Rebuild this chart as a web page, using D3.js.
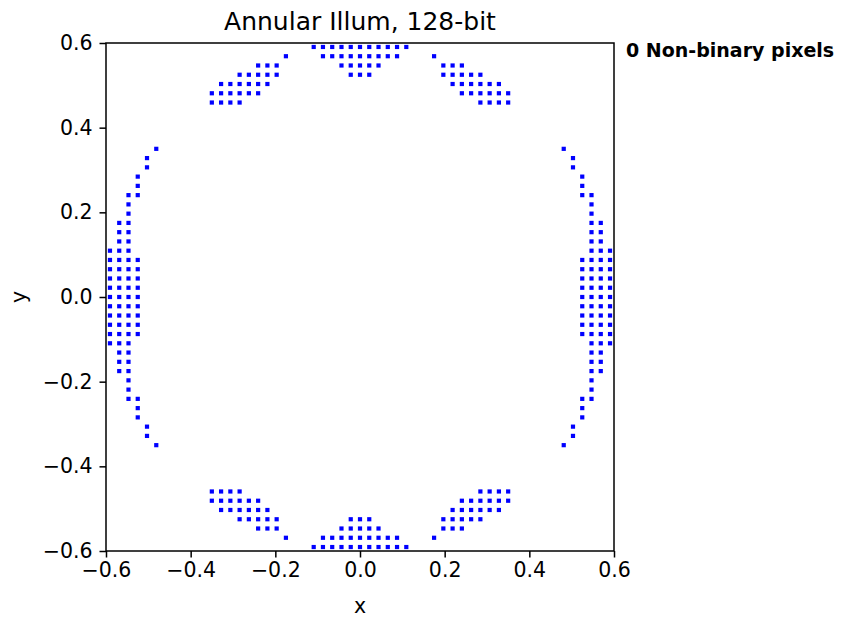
<!DOCTYPE html>
<html>
<head>
<meta charset="utf-8">
<script src="https://cdn.jsdelivr.net/npm/d3@7"></script>
<style>
  body { margin: 0; background: #fff; }
  svg { display: block; font-family: "DejaVu Sans", sans-serif; }
</style>
</head>
<body>
<svg id="chart" width="846" height="620"></svg>
<script>
// ---- data ----
const title = "Annular Illum, 128-bit";
const note = "0 Non-binary pixels";
const pitch = 0.021875;          // grid spacing in pupil coordinates
const xTicks = [-0.6, -0.4, -0.2, 0.0, 0.2, 0.4, 0.6];
const yTicks = [-0.6, -0.4, -0.2, 0.0, 0.2, 0.4, 0.6];
// grid row index (y) and the grid column indices (x) of lit pixels in that row
const rowIndex = [27, 26, 25, 24, 23, 22, 21, 16, 15, 14, 13, 12, 11, 10, 9, 8, 7, 6, 5, 4, 3, 2, 1, 0,
  -1, -2, -3, -4, -5, -6, -7, -8, -9, -10, -11, -12, -13, -14, -15, -16, -21, -22, -23, -24, -25, -26, -27];
const rowCols = [
  [-5,-4,-3,-2,-1,0,1,2,3,4,5],
  [-8,-4,-3,-2,-1,0,1,2,3,4,8],
  [-11,-10,-9,-2,-1,0,1,2,9,10,11],
  [-13,-12,-11,-10,-9,-1,0,1,9,10,11,12,13],
  [-15,-14,-13,-12,-11,-10,10,11,12,13,14,15],
  [-16,-15,-14,-13,-12,-11,11,12,13,14,15,16],
  [-16,-15,-14,-13,13,14,15,16],
  [-22,22],
  [-23,23],
  [-23,23],
  [-24,24],
  [-24,24],
  [-25,-24,24,25],
  [-25,25],
  [-25,25],
  [-26,-25,25,26],
  [-26,-25,25,26],
  [-26,-25,25,26],
  [-27,-26,-25,25,26,27],
  [-27,-26,-25,-24,24,25,26,27],
  [-27,-26,-25,-24,24,25,26,27],
  [-27,-26,-25,-24,24,25,26,27],
  [-27,-26,-25,-24,24,25,26,27],
  [-27,-26,-25,-24,24,25,26,27],
  [-27,-26,-25,-24,24,25,26,27],
  [-27,-26,-25,-24,24,25,26,27],
  [-27,-26,-25,-24,24,25,26,27],
  [-27,-26,-25,-24,24,25,26,27],
  [-27,-26,-25,25,26,27],
  [-26,-25,25,26],
  [-26,-25,25,26],
  [-26,-25,25,26],
  [-25,25],
  [-25,25],
  [-25,-24,24,25],
  [-24,24],
  [-24,24],
  [-23,23],
  [-23,23],
  [-22,22],
  [-16,-15,-14,-13,13,14,15,16],
  [-16,-15,-14,-13,-12,-11,11,12,13,14,15,16],
  [-15,-14,-13,-12,-11,-10,10,11,12,13,14,15],
  [-13,-12,-11,-10,-9,-1,0,1,9,10,11,12,13],
  [-11,-10,-9,-2,-1,0,1,2,9,10,11],
  [-8,-4,-3,-2,-1,0,1,2,3,4,8],
  [-5,-4,-3,-2,-1,0,1,2,3,4,5]
];

// ---- layout ----
const svg = d3.select("#chart");
const L = 106, R = 614, T = 43, B = 551;
const x = d3.scaleLinear().domain([-0.6, 0.6]).range([L, R]);
const y = d3.scaleLinear().domain([-0.6, 0.6]).range([B, T]);
const fmt = v => d3.format(".1f")(v).replace("-", "\u2212");

const points = [];
rowIndex.forEach((j, k) => rowCols[k].forEach(i => points.push({x: i * pitch, y: j * pitch})));

const ms = 4.2;
svg.append("g").selectAll("rect").data(points).enter().append("rect")
  .attr("x", d => x(d.x) - ms / 2)
  .attr("y", d => y(d.y) - ms / 2)
  .attr("width", ms).attr("height", ms)
  .attr("fill", "#0000ff");

const tickSize = 6.5;
const xAxis = svg.append("g").attr("transform", `translate(0,${B})`)
  .call(d3.axisBottom(x).tickValues(xTicks).tickFormat(fmt).tickSize(tickSize).tickPadding(5));
const yAxis = svg.append("g").attr("transform", `translate(${L},0)`)
  .call(d3.axisLeft(y).tickValues(yTicks).tickFormat(fmt).tickSize(tickSize).tickPadding(7));
[xAxis, yAxis].forEach(a => {
  a.select(".domain").remove();
  a.selectAll(".tick line").attr("stroke", "#000").attr("stroke-width", 1.5);
  a.selectAll(".tick text").attr("fill", "#000").style("font-size", "20.5px")
    .style("font-family", "DejaVu Sans, sans-serif");
});

svg.append("rect").attr("x", L).attr("y", T).attr("width", R - L).attr("height", B - T)
  .attr("fill", "none").attr("stroke", "#000").attr("stroke-width", 1.5);

svg.append("text").attr("x", (L + R) / 2).attr("y", 30).attr("text-anchor", "middle")
  .style("font-size", "25px").text(title);
svg.append("text").attr("x", (L + R) / 2).attr("y", 613).attr("text-anchor", "middle")
  .style("font-size", "20.5px").text("x");
svg.append("text").attr("transform", `translate(26,${(T + B) / 2}) rotate(-90)`)
  .attr("text-anchor", "middle").style("font-size", "20.5px").text("y");
svg.append("text").attr("x", 626).attr("y", 57)
  .style("font-size", "19px").style("font-weight", "bold").text(note);
</script>
</body>
</html>
